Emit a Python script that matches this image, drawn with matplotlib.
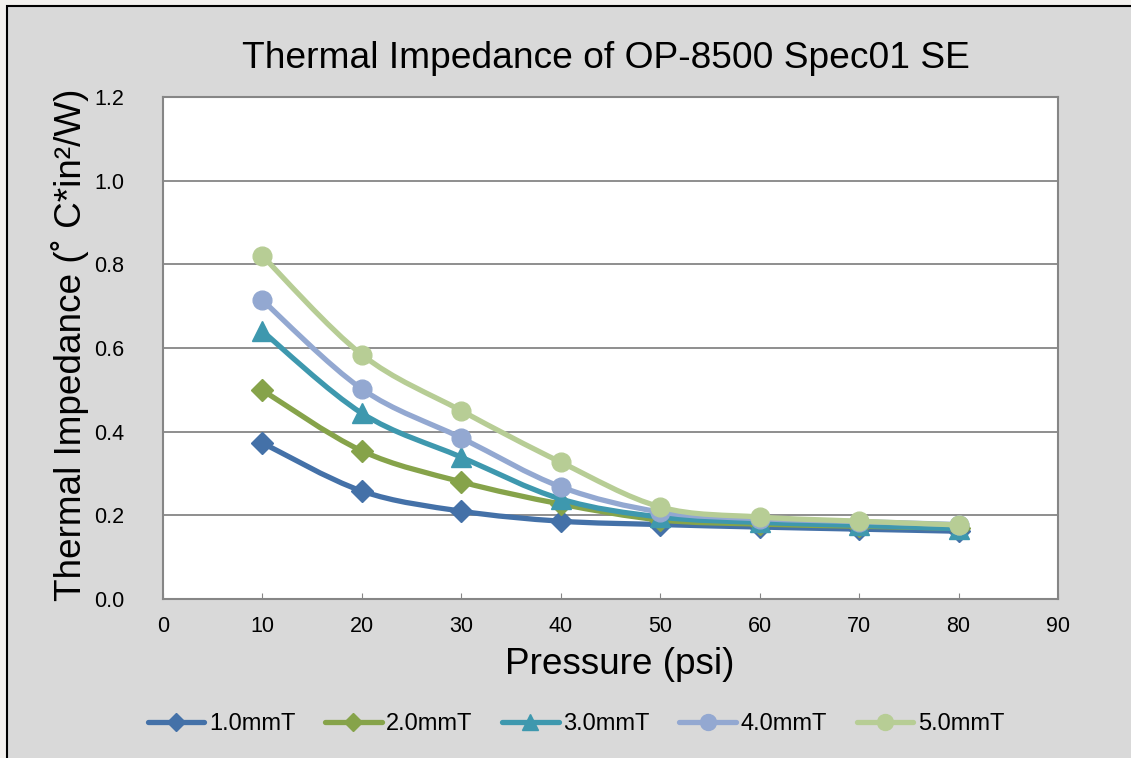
"""Thermal impedance vs pressure for OP-8500 Spec01 SE (Excel-style smoothed lines)."""

import matplotlib

matplotlib.use("Agg")
import matplotlib.pyplot as plt
import numpy as np
from matplotlib.lines import Line2D
from matplotlib.patches import PathPatch, Rectangle
from matplotlib.path import Path

plt.rcParams["font.family"] = ["Liberation Sans", "DejaVu Sans"]

PRESSURE = [10, 20, 30, 40, 50, 60, 70, 80]
T_10 = [0.373, 0.258, 0.210, 0.186, 0.178, 0.172, 0.167, 0.162]
T_20 = [0.499, 0.354, 0.280, 0.227, 0.189, 0.179, 0.174, 0.169]
T_30 = [0.640, 0.444, 0.339, 0.239, 0.196, 0.183, 0.176, 0.168]
T_40 = [0.714, 0.502, 0.385, 0.268, 0.208, 0.192, 0.185, 0.178]
T_50 = [0.820, 0.584, 0.450, 0.327, 0.220, 0.196, 0.186, 0.177]

SERIES = [
    ("1.0mmT", T_10, "#4471a8", "D", 11),
    ("2.0mmT", T_20, "#86a34a", "D", 11),
    ("3.0mmT", T_30, "#3e98ae", "^", 14),
    ("4.0mmT", T_40, "#93a8d1", "o", 13.5),
    ("5.0mmT", T_50, "#b7cd95", "o", 13.5),
]


def smooth_path(xs, ys):
    # Excel-like smoothed line: cubic Bezier segments through the points
    pts = np.column_stack([xs, ys]).astype(float)
    n = len(pts)
    verts = [pts[0]]
    codes = [Path.MOVETO]
    for i in range(n - 1):
        p0 = pts[max(i - 1, 0)]
        p1 = pts[i]
        p2 = pts[i + 1]
        p3 = pts[min(i + 2, n - 1)]
        c1 = p1 + (p2 - p0) / 6.0
        c2 = p2 - (p3 - p1) / 6.0
        verts += [c1, c2, p2]
        codes += [Path.CURVE4] * 3
    return Path(verts, codes)


fig = plt.figure(figsize=(11.31, 7.58), dpi=100, facecolor="#f3f1ee")
fig.patches.append(
    Rectangle((7 / 1131, -0.01), 1.02, 1 - 6 / 758 + 0.01, transform=fig.transFigure,
              facecolor="#d9d9d9", edgecolor="black", linewidth=1.5, zorder=-10)
)

ax = fig.add_axes([163 / 1131, 1 - 599 / 758, 895 / 1131, 502 / 758])
ax.set_zorder(1)
ax.set_facecolor("white")

handles = []
for k, (name, vals, color, marker, ms) in enumerate(SERIES):
    patch = PathPatch(smooth_path(PRESSURE, vals), facecolor="none", edgecolor=color,
                      linewidth=3.8, capstyle="round", joinstyle="round", zorder=3 + 2 * k)
    ax.add_patch(patch)
    ax.plot(PRESSURE, vals, linestyle="none", marker=marker, markersize=ms,
            color=color, markeredgecolor=color, zorder=4 + 2 * k)
    handles.append(Line2D([0], [0], color=color, linewidth=3.8, marker=marker,
                          markersize=ms * 0.85, solid_capstyle="round"))

ax.set_xlim(0, 90)
ax.set_ylim(0, 1.2)
ax.set_xticks(np.arange(0, 91, 10))
ax.set_yticks(np.arange(0, 1.21, 0.2))
ax.set_yticklabels([f"{v:.1f}" for v in np.arange(0, 1.21, 0.2)])
ax.tick_params(axis="x", direction="in", length=4, color="#868686", labelsize=15.5, pad=12)
ax.tick_params(axis="y", length=0, labelsize=15.5, pad=28)
ax.grid(axis="y", color="#868686", linewidth=1.3)
ax.set_axisbelow(True)
for sp in ax.spines.values():
    sp.set_color("#868686")
    sp.set_linewidth(1.5)

fig.text(606 / 1131, 1 - 58 / 758, "Thermal Impedance of OP-8500 Spec01 SE", ha="center",
         va="center", fontsize=26.7)
fig.text(620 / 1131, 1 - 665 / 758, "Pressure (psi)", ha="center", va="center", fontsize=26.6)
fig.text(70 / 1131, 1 - 345 / 758, "Thermal Impedance (˚ C*in²/W)", ha="center",
         va="center", rotation=90, fontsize=26.6)

fig.legend(handles, [s[0] for s in SERIES], loc="center", ncol=5,
           bbox_to_anchor=(576 / 1131, 1 - 724 / 758), frameon=False, fontsize=17,
           handlelength=2.4, handletextpad=0.2, columnspacing=1.25)

fig.savefig("out.png", dpi=100, facecolor=fig.get_facecolor())
